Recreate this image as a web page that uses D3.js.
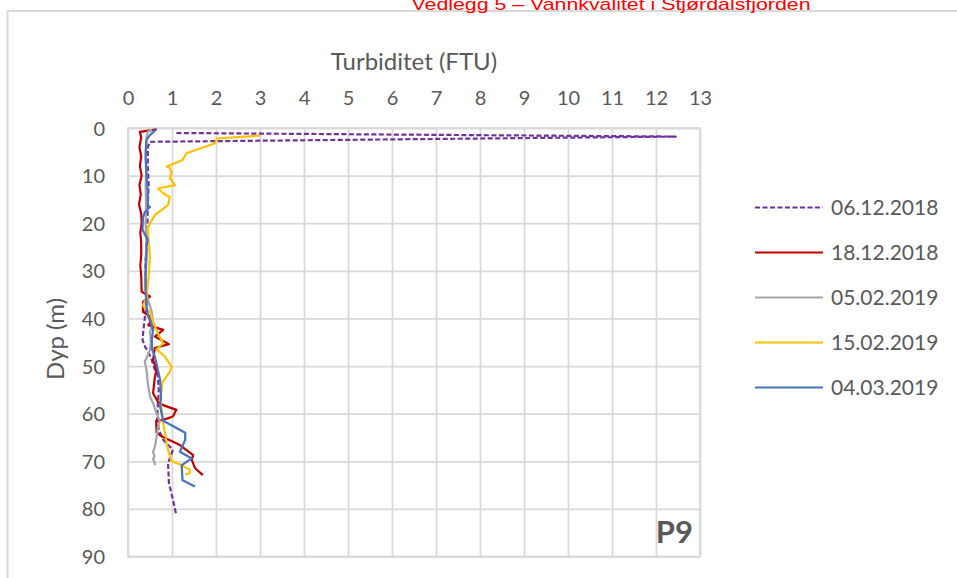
<!DOCTYPE html>
<html>
<head>
<meta charset="utf-8">
<script src="https://cdn.jsdelivr.net/npm/d3@7/dist/d3.min.js"></script>
<style>
  html, body { margin: 0; padding: 0; background: #fff; }
  svg { display: block; }
</style>
</head>
<body>
<svg id="chart" width="957" height="578"></svg>
<script>
// ---------- DATA ----------
const xTicks = [0,1,2,3,4,5,6,7,8,9,10,11,12,13];
const yTicks = [0,10,20,30,40,50,60,70,80,90];
const seriesNames = ["06.12.2018","18.12.2018","05.02.2019","15.02.2019","04.03.2019"];

// [turbidity FTU, depth m]
const s06122018 = [[1.1,1.05],[12.45,1.8],[0.5,2.9],[0.45,4],[0.45,8],[0.47,12],[0.45,16],[0.44,20],[0.42,25],[0.39,29],[0.4,33],[0.42,37],[0.38,40],[0.35,42.4],[0.33,44.5],[0.39,46],[0.45,46.8],[0.54,48.7],[0.6,50.5],[0.68,52],[0.7,55],[0.68,58],[0.66,61],[0.7,63.4],[0.8,65.5],[1.02,67.6],[0.91,70.4],[0.93,74.6],[1.02,78],[1.09,81]];
const s18122018 = [[0.65,0.3],[0.27,0.8],[0.3,2],[0.26,4],[0.3,6],[0.27,8],[0.31,10],[0.26,12],[0.29,14],[0.25,16],[0.3,18],[0.31,20],[0.28,22],[0.3,24],[0.3,26.7],[0.28,29],[0.3,31],[0.31,34.4],[0.5,35.4],[0.34,36.5],[0.34,38.6],[0.5,39.6],[0.54,40.3],[0.46,41.4],[0.8,42.4],[0.61,43.8],[0.93,45.4],[0.61,46.2],[0.57,48.7],[0.65,50.8],[0.61,52.3],[0.57,55.7],[0.68,57.5],[0.8,58.2],[1.1,59.2],[1.02,60.6],[0.8,61.3],[0.64,61.5],[0.65,64],[0.77,64.8],[1.18,66.6],[1.48,68.7],[1.45,69.7],[1.52,71.4],[1.7,72.9]];
const s05022019 = [[0.55,0.3],[0.45,0.8],[0.42,2],[0.4,5],[0.42,8],[0.4,12],[0.41,16],[0.4,20],[0.42,24],[0.4,28],[0.39,33],[0.45,36],[0.54,38.6],[0.57,41],[0.5,42.8],[0.52,45],[0.5,46.6],[0.42,48.4],[0.38,49],[0.42,50.8],[0.45,53.6],[0.5,56.4],[0.57,57.8],[0.65,60],[0.72,61.5],[0.68,62.8],[0.65,64.9],[0.61,67],[0.57,68],[0.6,69],[0.57,69.5],[0.62,70.8]];
const s15022019 = [[3.0,1.6],[2.02,2.2],[1.98,3.2],[1.33,5.3],[1.24,6.7],[0.88,8.1],[0.95,8.4],[0.99,9.5],[0.95,10.5],[1.07,12],[0.68,12.7],[0.8,13.7],[0.95,14.5],[0.91,16.2],[0.61,18.3],[0.5,20],[0.45,21],[0.47,24],[0.5,27.3],[0.47,31],[0.42,35.7],[0.34,37.2],[0.38,37.8],[0.5,38.6],[0.54,40],[0.6,41.4],[0.7,43.5],[0.8,45.2],[0.65,46.5],[0.84,48],[0.99,50.1],[0.95,51.2],[0.77,53.6],[0.77,54.6],[0.73,57.1],[0.77,59.2],[0.8,62],[0.84,64],[0.88,66.2],[0.91,67.6],[0.99,70],[1.22,70.8],[1.41,71.8],[1.4,72.5],[1.3,72.8]];
const s04032019 = [[0.65,0.2],[0.5,1.5],[0.42,2.5],[0.4,6.3],[0.42,9.9],[0.45,13.4],[0.45,16.2],[0.5,16.6],[0.39,17.6],[0.34,18.7],[0.33,21.4],[0.45,23.5],[0.42,24.6],[0.42,27.3],[0.4,30.9],[0.4,34.4],[0.42,37.2],[0.45,39.3],[0.54,41.4],[0.57,42.4],[0.54,44.5],[0.55,46.6],[0.61,48],[0.68,50.8],[0.73,53],[0.75,56.4],[0.73,58.5],[0.8,61.5],[1.3,64],[1.3,65.5],[1.18,68],[1.45,69.4],[1.22,70.8],[1.24,74],[1.52,75.3]];

const seriesData = [s06122018, s18122018, s05022019, s15022019, s04032019];
const seriesColors = ["#7030A0","#C00000","#A5A5A5","#FFC000","#4472C4"];
const seriesDash = ["5,2.5", null, null, null, null];

// ---------- LAYOUT ----------
const svg = d3.select("#chart");
const L = 128, R = 700, T = 128, B = 556.5;
const font = "Lato, 'Open Sans', sans-serif";
const textColor = "#595959";
const gridColor = "#D9D9D9";

const x = d3.scaleLinear().domain([0, 13]).range([L, R]);
const y = d3.scaleLinear().domain([0, 90]).range([T, B]);

// outer chart border
svg.append("line").attr("x1", 7.5).attr("x2", 7.5).attr("y1", 11).attr("y2", 578)
  .attr("stroke", gridColor).attr("stroke-width", 2);
svg.append("line").attr("x1", 6.5).attr("x2", 957).attr("y1", 11).attr("y2", 11)
  .attr("stroke", gridColor).attr("stroke-width", 2);

// header
svg.append("text").attr("x", 611).attr("y", 10)
  .attr("text-anchor", "middle")
  .attr("font-family", "'Liberation Sans', Arial, sans-serif")
  .attr("font-size", 17).attr("fill", "#FF0000")
  .attr("textLength", 399).attr("lengthAdjust", "spacingAndGlyphs")
  .text("Vedlegg 5 – Vannkvalitet i Stjørdalsfjorden");

// gridlines via axes
const gx = svg.append("g").attr("transform", `translate(0,${T})`)
  .call(d3.axisTop(x).tickValues(xTicks).tickSize(-(B - T)).tickFormat(d => d));
gx.select(".domain").remove();
gx.selectAll(".tick line").attr("stroke", gridColor).attr("stroke-width", 1.8);
gx.selectAll(".tick text").attr("font-family", font).attr("font-size", 20)
  .attr("fill", textColor).attr("y", -23).attr("dy", 0);

const gy = svg.append("g").attr("transform", `translate(${L},0)`)
  .call(d3.axisLeft(y).tickValues(yTicks).tickSize(-(R - L)).tickFormat(d => d));
gy.select(".domain").remove();
gy.selectAll(".tick line").attr("stroke", gridColor).attr("stroke-width", 1.8);
gy.selectAll(".tick text").attr("font-family", font).attr("font-size", 20)
  .attr("fill", textColor).attr("x", -23).attr("dy", "0.35em");

// plot border
svg.append("rect").attr("x", L).attr("y", T).attr("width", R - L).attr("height", B - T)
  .attr("fill", "none").attr("stroke", gridColor).attr("stroke-width", 1.8);

// titles
svg.append("text").attr("x", 414).attr("y", 70).attr("text-anchor", "middle")
  .attr("font-family", font).attr("font-size", 24).attr("fill", textColor)
  .text("Turbiditet (FTU)");
svg.append("text").attr("transform", "translate(64,339) rotate(-90)")
  .attr("text-anchor", "middle").attr("font-family", font).attr("font-size", 24)
  .attr("fill", textColor).text("Dyp (m)");

// series
const line = d3.line().x(d => x(d[0])).y(d => y(d[1]));
seriesData.forEach((data, i) => {
  svg.append("path").datum(data).attr("d", line)
    .attr("fill", "none").attr("stroke", seriesColors[i]).attr("stroke-width", 2.2)
    .attr("stroke-linejoin", "round")
    .attr("stroke-dasharray", seriesDash[i]);
});

// P9 label
svg.append("text").attr("x", 693).attr("y", 543).attr("text-anchor", "end")
  .attr("font-family", font).attr("font-weight", "bold").attr("font-size", 31)
  .attr("fill", textColor).text("P9");

// legend
const legY = [207.5, 252.5, 297.5, 342.5, 387.5];
seriesNames.forEach((name, i) => {
  const g = svg.append("g");
  g.append("line").attr("x1", 755).attr("x2", 823).attr("y1", legY[i]).attr("y2", legY[i])
    .attr("stroke", seriesColors[i]).attr("stroke-width", 2.2)
    .attr("stroke-dasharray", seriesDash[i]);
  g.append("text").attr("x", 831).attr("y", legY[i]).attr("dy", "0.35em")
    .attr("font-family", font).attr("font-size", 21).attr("fill", textColor)
    .text(name);
});
</script>
</body>
</html>
